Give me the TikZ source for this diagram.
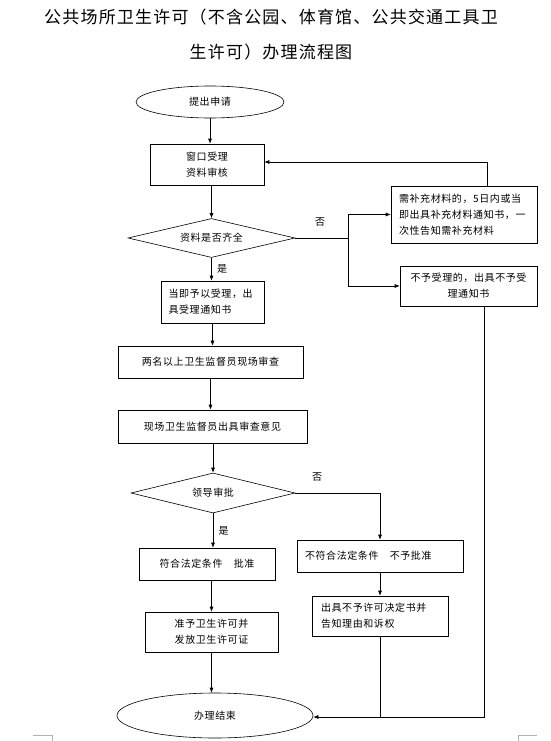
\documentclass[tikz,border=0pt]{standalone}
\usepackage{fontspec}
\newfontfamily\cjk[LetterSpace=6]{Noto Sans CJK SC}
\newfontfamily\cjktitulo[LetterSpace=7]{Noto Sans CJK SC}
\usetikzlibrary{shapes.geometric,arrows.meta}

\begin{document}
\begin{tikzpicture}[x=1pt,y=-1pt,
    caja/.style={draw, line width=0.6pt, inner sep=0pt, font=\cjk\fontsize{10}{16}\selectfont},
    elipse/.style={caja, ellipse},
    rombo/.style={caja, diamond, aspect=4},
    flecha/.style={-{Latex[length=5pt,width=4pt]}, line width=0.6pt},
    linea/.style={line width=0.6pt},
    etiqueta/.style={font=\cjk\fontsize{10}{12}\selectfont}]
  \useasboundingbox (0,0) rectangle (551,741);

  % Titulo
  \node[font=\cjktitulo\fontsize{17}{20}\selectfont] (titulo1) at (271,17) {公共场所卫生许可（不含公园、体育馆、公共交通工具卫};
  \node[font=\cjktitulo\fontsize{17}{20}\selectfont] (titulo2) at (271,52) {生许可）办理流程图};

  % Columna principal
  \node[elipse, minimum width=148pt, minimum height=32pt] (inicio) at (210,102) {提出申请};
  \node[caja, minimum width=114pt, minimum height=41pt, align=center] (ventanilla) at (207,164.5) {窗口受理\\资料审核};
  \node[rombo, minimum width=167pt, minimum height=39pt] (completo) at (211.5,238) {资料是否齐全};
  \node[caja, minimum width=103pt, minimum height=42pt, text width=88pt, align=left] (aceptar) at (212.5,302) {当即予以受理，出\\具受理通知书};
  \node[caja, minimum width=185pt, minimum height=32pt] (inspeccion) at (210.5,362) {两名以上卫生监督员现场审查};
  \node[caja, minimum width=189pt, minimum height=33pt] (opinion) at (212.5,426.5) {现场卫生监督员出具审查意见};
  \node[rombo, minimum width=164pt, minimum height=40pt] (aprobacion) at (213,493) {领导审批};
  \node[caja, minimum width=136pt, minimum height=32pt] (aprueba) at (207,564) {符合法定条件　批准};
  \node[caja, minimum width=133pt, minimum height=40pt, align=center] (licencia) at (211.5,632) {准予卫生许可并\\发放卫生许可证};
  \node[elipse, minimum width=196pt, minimum height=45pt] (fin) at (215,715.5) {办理结束};

  % Ramas laterales
  \node[caja, minimum width=146pt, minimum height=57pt, text width=130pt, align=left] (suplir) at (464,214.5) {需补充材料的，5日内或当\\即出具补充材料通知书，一\\次性告知需补充材料};
  \node[caja, minimum width=137pt, minimum height=40pt, align=center] (rechazo) at (468.5,286) {不予受理的，出具不予受\\理通知书};
  \node[caja, minimum width=166pt, minimum height=32pt, text width=150pt, align=left] (deniega) at (380,556) {不符合法定条件　不予批准};
  \node[caja, minimum width=136pt, minimum height=40pt, text width=118pt, align=left] (decision) at (380,616) {出具不予许可决定书并\\告知理由和诉权};

  % Etiquetas
  \node[etiqueta] (no1) at (320,222) {否};
  \node[etiqueta] (no2) at (317,477) {否};

  % Conexiones
  \coordinate (rama1) at (348,238);
  \coordinate (retorno) at (487,162);
  \coordinate (union) at (484,717);
  \draw[flecha] (inicio.south) -- (inicio.south |- ventanilla.north);
  \draw[flecha] (completo.north |- ventanilla.south) -- (completo.north);
  \draw[flecha] (completo.south) -- (completo.south |- aceptar.north) node[etiqueta, midway, right=2pt] {是};
  \draw[linea] (completo.east) -- (rama1);
  \draw[flecha] (rama1) |- (suplir.west);
  \draw[flecha] (rama1) |- (rechazo.west);
  \draw[flecha] (retorno |- suplir.north) -- (retorno) -- (retorno -| ventanilla.east);
  \draw[flecha] (aceptar.south) -- (aceptar.south |- inspeccion.north);
  \draw[flecha] (inspeccion.south) -- (inspeccion.south |- opinion.north);
  \draw[flecha] (aprobacion.north |- opinion.south) -- (aprobacion.north);
  \draw[flecha] (aprobacion.south) -- (aprobacion.south |- aprueba.north) node[etiqueta, midway, right=2pt] {是};
  \draw[flecha] (aprobacion.east) -| (deniega.north);
  \draw[flecha] (licencia.north |- aprueba.south) -- (licencia.north);
  \draw[flecha] (licencia.south) -- (licencia.south |- fin.north);
  \draw[flecha] (deniega.south) -- (decision.north);
  \draw[flecha] (union |- rechazo.south) -- (union) -- (union -| fin.east);
  \draw[linea] (decision.south) -- (decision.south |- union);

  % Marcas de esquina
  \draw[gray!60, line width=0.6pt] (33,735) -- (52,735) -- (52,741);
  \draw[gray!60, line width=0.6pt] (537,735) -- (518,735) -- (518,741);
\end{tikzpicture}
\end{document}
